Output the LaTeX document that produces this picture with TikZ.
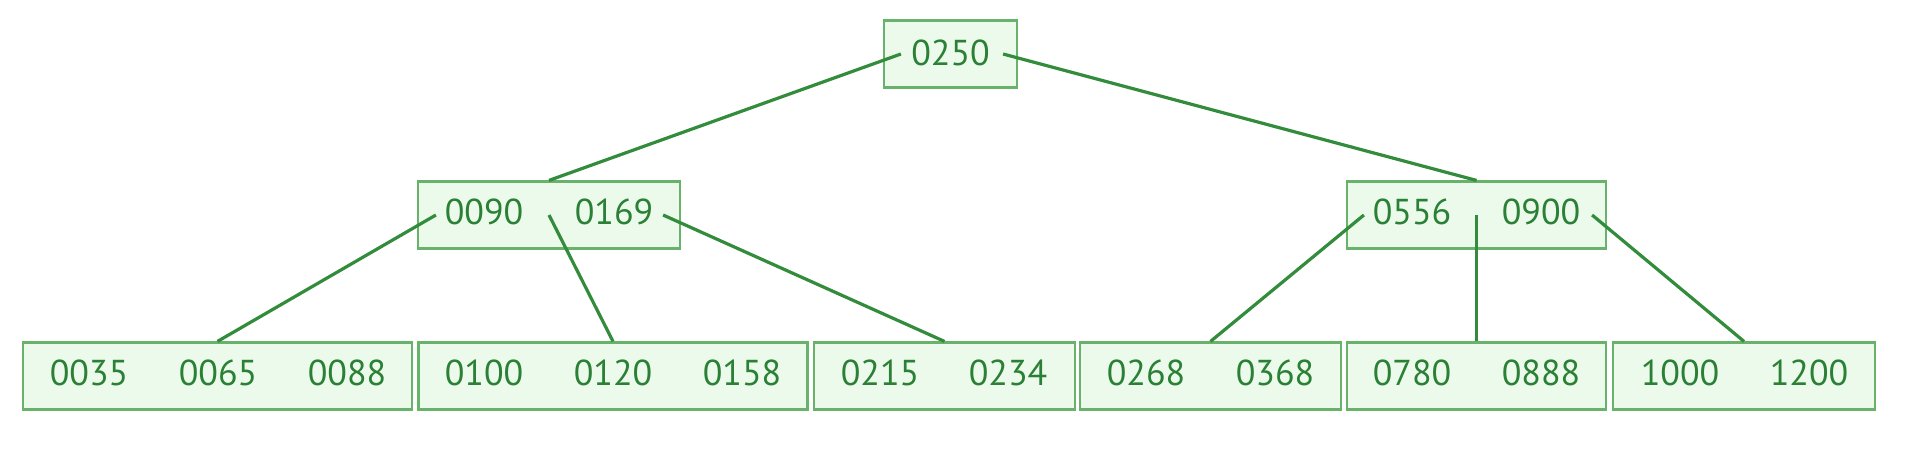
\documentclass[tikz,border=0pt]{standalone}
\usepackage{fontspec}
\setmainfont{PT Sans}
\usetikzlibrary{calc}

\definecolor{linegreen}{RGB}{50,140,60}
\definecolor{boxgreen}{RGB}{105,178,108}
\definecolor{fillgreen}{RGB}{236,250,236}
\definecolor{keygreen}{RGB}{42,128,52}

\tikzset{
  box/.style={draw=boxgreen, fill=fillgreen, line width=2.2pt, minimum height=67pt, inner sep=0pt},
  key/.style={text=keygreen, inner sep=0pt, font=\fontsize{36}{36}\selectfont},
  link/.style={draw=linegreen, line width=3.2pt},
}

\begin{document}
\begin{tikzpicture}[x=1pt,y=-1pt]
    \useasboundingbox (0,0) rectangle (1905,455);

    % root
    \node[box, minimum width=133pt] (root) at (950.5,54) {};
    % inner nodes
    \node[box, minimum width=262pt] (m1) at (549,215) {};
    \node[box, minimum width=259pt] (m2) at (1476.5,215) {};
    % leaves
    \node[box, minimum width=389pt] (l1) at (217.5,376) {};
    \node[box, minimum width=389pt] (l2) at (613,376) {};
    \node[box, minimum width=261pt] (l3) at (944.5,376) {};
    \node[box, minimum width=261pt] (l4) at (1210.5,376) {};
    \node[box, minimum width=259pt] (l5) at (1476.5,376) {};
    \node[box, minimum width=262pt] (l6) at (1744,376) {};

    % keys
    \node[key] (k0250) at (950.5,53) {0250};
    \node[key] (k0090) at (484,212) {0090};
    \node[key] (k0169) at (614,212) {0169};
    \node[key] (k0556) at (1412,212) {0556};
    \node[key] (k0900) at (1541,212) {0900};
    \node[key] (k0035) at (89,373) {0035};
    \node[key] (k0065) at (218,373) {0065};
    \node[key] (k0088) at (347,373) {0088};
    \node[key] (k0100) at (484,373) {0100};
    \node[key] (k0120) at (613,373) {0120};
    \node[key] (k0158) at (742,373) {0158};
    \node[key] (k0215) at (880,373) {0215};
    \node[key] (k0234) at (1008,373) {0234};
    \node[key] (k0268) at (1146,373) {0268};
    \node[key] (k0368) at (1275,373) {0368};
    \node[key] (k0780) at (1412,373) {0780};
    \node[key] (k0888) at (1541,373) {0888};
    \node[key] (k1000) at (1680,373) {1000};
    \node[key] (k1200) at (1809,373) {1200};

    % pointers
    \coordinate (rootA) at ($(root.west)+(18,0)$);
    \coordinate (rootB) at ($(root.east)+(-15,0)$);
    \coordinate (m1A) at ($(m1.west)+(19,0)$);
    \coordinate (m1B) at ($(m1.east)+(-18,0)$);
    \coordinate (m2A) at ($(m2.west)+(18,0)$);
    \coordinate (m2B) at ($(m2.east)+(-15,0)$);

    \draw[link] (rootA) -- (m1.north);
    \draw[link] (rootB) -- (m2.north);
    \draw[link] (m1A) -- (l1.north);
    \draw[link] (m1.center) -- (l2.north);
    \draw[link] (m1B) -- (l3.north);
    \draw[link] (m2A) -- (l4.north);
    \draw[link] (m2.center) -- (l5.north);
    \draw[link] (m2B) -- (l6.north);

\end{tikzpicture}
\end{document}
